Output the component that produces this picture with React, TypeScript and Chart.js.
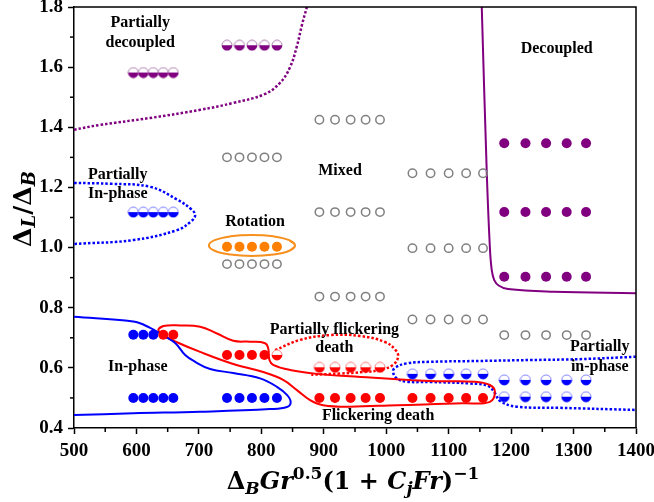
import React, { useEffect, useRef } from 'react';
import { Chart, registerables } from 'chart.js';
Chart.register(...registerables);

type P = [number, number];
type Row = [number[], number];

// ---- tick values ----
const xTickMajor = [500, 600, 700, 800, 900, 1000, 1100, 1200, 1300, 1400];
const xTickMinor = [550, 650, 750, 850, 950, 1050, 1150, 1250, 1350];
const yTickMajor = [0.4, 0.6, 0.8, 1.0, 1.2, 1.4, 1.6, 1.8];
const yTickMinor = [0.5, 0.7, 0.9, 1.1, 1.3, 1.5, 1.7];

// ---- marker columns ----
const colA = [595, 611, 627, 643, 659];
const colB = [745, 765, 785, 805, 825];
const colC = [893, 918, 943, 967, 990];
const colD = [1042, 1071, 1100, 1128, 1155];
const colE = [1189, 1223, 1256, 1289, 1320];

// ---- regime markers (x list, y) ----
const inPhaseRows: Row[] = [[colA.slice(0, 3), 0.71], [colA, 0.5], [colB, 0.5]];
const flickerRows: Row[] = [[colA.slice(3), 0.71], [colB.slice(0, 4), 0.643], [colC, 0.5], [colD, 0.5]];
const partialFlickerRows: Row[] = [[colB.slice(4), 0.643], [colC, 0.602]];
const partialInPhaseRows: Row[] = [[colA, 1.118], [colD, 0.58], [colE, 0.56], [colE, 0.504]];
const rotationRows: Row[] = [[colB, 1.003]];
const mixedRows: Row[] = [
  [colB, 1.3], [colB, 0.945], [colC, 1.425], [colC, 1.118], [colC, 0.837],
  [colD, 1.247], [colD, 0.998], [colD, 0.761], [colE, 0.709],
];
const partialDecoupledRows: Row[] = [[colA, 1.582], [colB, 1.673]];
const decoupledRows: Row[] = [[colE, 1.347], [colE, 1.118], [colE, 0.903]];

// ---- regime boundaries ----
const partialDecoupledLine: P[] = [
  [500, 1.392], [542, 1.408], [622, 1.431], [702, 1.458], [755, 1.481], [805, 1.51],
  [830, 1.548], [846, 1.6], [857, 1.67], [865, 1.74], [873, 1.8],
];
const decoupledLine: P[] = [
  [1153, 1.8], [1161, 1.25], [1166, 1.0], [1169, 0.925], [1173, 0.892], [1180, 0.874],
  [1195, 0.862], [1268, 0.853], [1400, 0.848],
];
const partialInPhaseLeftLine: P[] = [
  [500, 1.215], [560, 1.212], [622, 1.202], [665, 1.16], [688, 1.127], [694, 1.108],
  [688, 1.088], [665, 1.058], [595, 1.025], [500, 1.012],
];
const rotationLoop: P[] = [
  [854, 1.007], [844.8, 1.0245], [819.5, 1.0373], [785, 1.042], [750.5, 1.0373], [725.2, 1.0245],
  [716, 1.007], [725.2, 0.9895], [750.5, 0.9767], [785, 0.972], [819.5, 0.9767], [844.8, 0.9895],
];
const inPhaseLine: P[] = [
  [500, 0.77], [595, 0.754], [622, 0.733], [642, 0.709], [662, 0.683], [678, 0.643],
  [694, 0.62], [718, 0.596], [755, 0.583], [798, 0.565], [825, 0.537], [841, 0.51],
  [847, 0.486], [841, 0.47], [814, 0.463], [702, 0.454], [595, 0.449], [500, 0.443],
];
const flickerLoop: P[] = [
  [635, 0.726], [643, 0.739], [670, 0.741], [702, 0.737], [728, 0.715], [755, 0.69],
  [782, 0.687], [806, 0.682], [811, 0.665], [813, 0.626], [819, 0.61], [846, 0.593],
  [889, 0.58], [942, 0.572], [1070, 0.556], [1142, 0.554], [1166, 0.543], [1174, 0.521],
  [1166, 0.487], [1123, 0.482], [1017, 0.476], [942, 0.471], [899, 0.476], [878, 0.493],
  [857, 0.526], [835, 0.56], [803, 0.586], [755, 0.613], [702, 0.653], [664, 0.686], [643, 0.709],
];
const partialFlickerLine: P[] = [
  [822, 0.659], [862, 0.693], [910, 0.709], [958, 0.706], [998, 0.686], [1015, 0.659],
  [1019, 0.636], [1011, 0.61], [990, 0.593], [963, 0.586], [926, 0.581], [880, 0.577],
];
const partialInPhaseRightLine: P[] = [
  [1400, 0.637], [1310, 0.629], [1230, 0.626], [1150, 0.623], [1070, 0.62], [1033, 0.615],
  [1014, 0.6], [1011, 0.586], [1017, 0.565], [1033, 0.554], [1070, 0.553], [1134, 0.548],
  [1163, 0.54], [1174, 0.516], [1182, 0.49], [1209, 0.471], [1278, 0.467], [1400, 0.46],
];

// ---- region labels ----
const regionLabels: { text: string; x: number; y: number }[] = [
  { text: 'Partially', x: 606, y: 1.747 },
  { text: 'decoupled', x: 606, y: 1.68 },
  { text: 'Partially', x: 570, y: 1.241 },
  { text: 'In-phase', x: 570, y: 1.178 },
  { text: 'Rotation', x: 790, y: 1.086 },
  { text: 'Mixed', x: 926, y: 1.256 },
  { text: 'Decoupled', x: 1273, y: 1.66 },
  { text: 'Partially flickering', x: 917, y: 0.728 },
  { text: 'death', x: 917, y: 0.665 },
  { text: 'In-phase', x: 602, y: 0.604 },
  { text: 'Flickering death', x: 987, y: 0.441 },
  { text: 'Partially', x: 1342, y: 0.67 },
  { text: 'in-phase', x: 1342, y: 0.602 },
];

const PURPLE = '#800080';
const BLUE = '#0000ff';
const RED = '#ff0000';
const ORANGE = '#ff8000';
const GRAY = '#808080';
const SERIF = '"Liberation Serif", "Times New Roman", serif';
const MATH = '"DejaVu Serif", serif';

const toPts = (rows: Row[]) => rows.flatMap(([xs, y]) => xs.map((x) => ({ x, y })));
const toXY = (ps: P[]) => ps.map(([x, y]) => ({ x, y }));
const closed = (ps: P[]) => toXY([ps[ps.length - 1], ...ps, ps[0], ps[1]]);

function halfMarker(color: string, ring: string) {
  const c = document.createElement('canvas');
  c.width = 12;
  c.height = 12;
  const g = c.getContext('2d')!;
  g.beginPath();
  g.arc(6, 6, 5, 0, Math.PI * 2);
  g.fillStyle = '#fff';
  g.fill();
  g.lineWidth = 1;
  g.strokeStyle = ring;
  g.stroke();
  g.beginPath();
  g.arc(6, 6, 5.2, 0, Math.PI);
  g.closePath();
  g.fillStyle = color;
  g.fill();
  return c;
}

type Seg = { t: string; it?: boolean; sz: number; dy?: number };
function drawRich(ctx: CanvasRenderingContext2D, segs: Seg[], x: number, y: number) {
  const font = (s: Seg) => `${s.it ? 'italic ' : ''}bold ${s.sz}px ${MATH}`;
  let w = 0;
  segs.forEach((s) => {
    ctx.font = font(s);
    w += ctx.measureText(s.t).width;
  });
  let cx = x - w / 2;
  ctx.textAlign = 'left';
  ctx.textBaseline = 'alphabetic';
  segs.forEach((s) => {
    ctx.font = font(s);
    ctx.fillText(s.t, cx, y + (s.dy || 0));
    cx += ctx.measureText(s.t).width;
  });
}

const xTitle: Seg[] = [
  { t: 'Δ', sz: 24 },
  { t: 'B', it: true, sz: 17, dy: 5 },
  { t: 'Gr', it: true, sz: 24 },
  { t: '0.5', sz: 17, dy: -10 },
  { t: '(1 + ', sz: 24 },
  { t: 'C', it: true, sz: 24 },
  { t: 'j', it: true, sz: 17, dy: 5 },
  { t: 'Fr', it: true, sz: 24 },
  { t: ')', sz: 24 },
  { t: '−1', sz: 17, dy: -10 },
];
const yTitle: Seg[] = [
  { t: 'Δ', sz: 25 },
  { t: 'L', it: true, sz: 18, dy: 4 },
  { t: '/Δ', sz: 25 },
  { t: 'B', it: true, sz: 18, dy: 4 },
];

const overlay = {
  id: 'overlay',
  afterDraw(chart: any) {
    const { ctx, chartArea: a, scales } = chart;
    const xs = scales.x;
    const ys = scales.y;
    ctx.save();
    ctx.strokeStyle = '#000';
    ctx.lineWidth = 1.5;
    ctx.beginPath();
    ctx.moveTo(a.left, a.top);
    ctx.lineTo(a.right, a.top);
    ctx.lineTo(a.right, a.bottom);
    ctx.stroke();
    xTickMinor.forEach((v) => {
      const px = xs.getPixelForValue(v);
      ctx.beginPath();
      ctx.moveTo(px, a.bottom);
      ctx.lineTo(px, a.bottom + 4);
      ctx.stroke();
    });
    yTickMinor.forEach((v) => {
      const py = ys.getPixelForValue(v);
      ctx.beginPath();
      ctx.moveTo(a.left, py);
      ctx.lineTo(a.left - 4, py);
      ctx.stroke();
    });
    ctx.fillStyle = '#000';
    ctx.font = `bold 16px ${SERIF}`;
    ctx.textAlign = 'center';
    ctx.textBaseline = 'middle';
    regionLabels.forEach((l) => ctx.fillText(l.text, xs.getPixelForValue(l.x), ys.getPixelForValue(l.y)));
    drawRich(ctx, xTitle, 353, 489);
    ctx.save();
    ctx.translate(31, 209);
    ctx.rotate(-Math.PI / 2);
    drawRich(ctx, yTitle, 0, 0);
    ctx.restore();
    ctx.restore();
  },
};

const zeroPad = (s: any) => {
  s.paddingTop = 0;
  s.paddingBottom = 0;
  s.paddingLeft = 0;
  s.paddingRight = 0;
};

export default function App() {
  const ref = useRef<HTMLCanvasElement>(null);
  useEffect(() => {
    const halfPurple = halfMarker(PURPLE, '#b080b0');
    const halfBlue = halfMarker(BLUE, '#8080ff');
    const halfRed = halfMarker(RED, '#ff8080');
    const filled = (label: string, rows: Row[], color: string) => ({
      label,
      data: toPts(rows),
      pointRadius: 5,
      pointBorderWidth: 0,
      pointBackgroundColor: color,
      pointBorderColor: color,
      order: 1,
    });
    const half = (label: string, rows: Row[], img: HTMLCanvasElement) => ({
      label,
      data: toPts(rows),
      pointStyle: img,
      pointRadius: 5,
      order: 1,
    });
    const curve = (label: string, data: any[], color: string, dotted: boolean, width = 2) => ({
      label,
      data,
      showLine: true,
      pointRadius: 0,
      borderColor: color,
      borderWidth: dotted ? 2.5 : width,
      borderDash: dotted ? [2.5, 2] : [],
      tension: 0.4,
      fill: false,
      order: 2,
    });
    const chart = new Chart(ref.current!, {
      type: 'scatter',
      data: {
        datasets: [
          filled('In-phase', inPhaseRows, BLUE),
          filled('Flickering death', flickerRows, RED),
          half('Partially flickering death', partialFlickerRows, halfRed),
          half('Partially in-phase', partialInPhaseRows, halfBlue),
          filled('Rotation', rotationRows, ORANGE),
          {
            label: 'Mixed',
            data: toPts(mixedRows),
            pointRadius: 4.2,
            pointBorderWidth: 1.5,
            pointBorderColor: GRAY,
            pointBackgroundColor: 'rgba(255,255,255,0)',
            order: 1,
          },
          half('Partially decoupled', partialDecoupledRows, halfPurple),
          filled('Decoupled', decoupledRows, PURPLE),
          curve('Partially decoupled boundary', toXY(partialDecoupledLine), PURPLE, true),
          curve('Decoupled boundary', toXY(decoupledLine), PURPLE, false),
          curve('Partially in-phase boundary (left)', toXY(partialInPhaseLeftLine), BLUE, true),
          curve('Rotation boundary', closed(rotationLoop), '#f7901e', false),
          curve('In-phase boundary', toXY(inPhaseLine), BLUE, false),
          curve('Flickering death boundary', closed(flickerLoop), RED, false),
          curve('Partially flickering death boundary', toXY(partialFlickerLine), RED, true),
          curve('Partially in-phase boundary (right)', toXY(partialInPhaseRightLine), BLUE, true),
        ] as any,
      },
      options: {
        responsive: false,
        animation: false,
        layout: { autoPadding: false, padding: { top: 7, right: 18, left: 0, bottom: 0 } },
        plugins: { legend: { display: false }, tooltip: { enabled: false } },
        scales: {
          x: {
            type: 'linear',
            min: 500,
            max: 1400,
            afterFit: (s: any) => { s.height = 74; zeroPad(s); },
            afterBuildTicks: (s: any) => { s.ticks = xTickMajor.map((v) => ({ value: v })); },
            ticks: {
              color: '#000',
              padding: 6,
              maxRotation: 0,
              font: { family: SERIF, size: 19, weight: 'bold' },
              callback: (v: any) => String(v),
            },
            grid: { drawOnChartArea: false, drawTicks: true, tickLength: 6, tickColor: '#000', tickWidth: 1.5 },
            border: { display: true, color: '#000', width: 1.5 },
          },
          y: {
            type: 'linear',
            min: 0.4,
            max: 1.8,
            afterFit: (s: any) => { s.width = 74; zeroPad(s); },
            afterBuildTicks: (s: any) => { s.ticks = yTickMajor.map((v) => ({ value: v })); },
            ticks: {
              color: '#000',
              padding: 5,
              font: { family: SERIF, size: 19, weight: 'bold' },
              callback: (v: any) => Number(v).toFixed(1),
            },
            grid: { drawOnChartArea: false, drawTicks: true, tickLength: 6, tickColor: '#000', tickWidth: 1.5 },
            border: { display: true, color: '#000', width: 1.5 },
          },
        },
      } as any,
      plugins: [overlay],
    });
    return () => chart.destroy();
  }, []);
  return (
    <div style={{ position: 'absolute', left: 0, top: 0, width: 654, height: 502, background: '#fff' }}>
      <canvas ref={ref} width={654} height={502} style={{ display: 'block' }} />
    </div>
  );
}
